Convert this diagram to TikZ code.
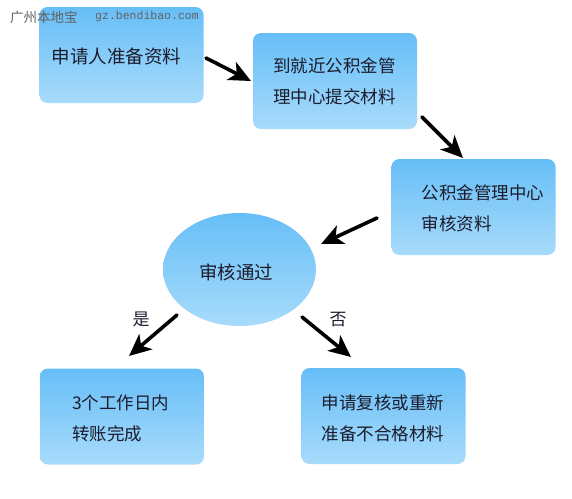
\documentclass[tikz,border=0pt]{standalone}
\usepackage{fontspec}
\newfontfamily\cjk{Noto Sans CJK SC}
\newfontfamily\webmono{Liberation Mono}
\usetikzlibrary{arrows.meta,calc,positioning,shapes.geometric}

\definecolor{boxtop}{HTML}{66BEF7}
\definecolor{boxbot}{HTML}{A8DBFB}
\definecolor{inkdark}{HTML}{1C1C2C}

\begin{document}
\begin{tikzpicture}[
  x=1pt, y=-1pt,
  line cap=round,
  line join=round,
  stepbox/.style={rounded corners=8pt, top color=boxtop, bottom color=boxbot,
    draw=none, minimum width=164pt, minimum height=96pt, inner sep=0pt},
  checkoval/.style={ellipse, top color=boxtop, bottom color=boxbot,
    draw=none, minimum width=153pt, minimum height=113pt, inner sep=0pt},
  steptext/.style={anchor=west, inner sep=0pt, align=left, text=inkdark,
    font=\cjk\fontsize{17.5}{31}\selectfont},
  bigtext/.style={steptext, font=\cjk\fontsize{18.5}{31}\selectfont},
  flow/.style={-{Stealth[length=22pt,width=20pt,inset=6pt]}, line width=3.6pt, draw=black},
  branch/.style={inner sep=0pt, text=inkdark, font=\cjk\fontsize{17}{18}\selectfont},
  watermark/.style={inner sep=0pt, text=black!62}
]

\useasboundingbox (0,0) rectangle (572,498);
\fill[white] (0,0) rectangle (572,498);

% Process boxes.
\node[stepbox] (apply) at (121.5,55) {};
\node[stepbox] (submit) at (335,81) {};
\node[stepbox] (review) at (473.5,207) {};
\node[checkoval] (pass) at (239.5,269.5) {};
\node[stepbox] (transfer) at (122,416.5) {};
\node[stepbox] (redo) at (383.5,416) {};

% Box texts.
\node[bigtext] (applytxt) at ([xshift=12pt,yshift=-1pt]apply.west) {申请人准备资料};
\node[steptext] (submittxt) at ([xshift=20pt]submit.west) {到就近公积金管\\理中心提交材料};
\node[steptext] (reviewtxt) at ([xshift=30pt,yshift=-1pt]review.west) {公积金管理中心\\审核资料};
\node[bigtext] (passtxt) at ([xshift=36pt,yshift=-3pt]pass.west) {审核通过};
\node[steptext] (transfertxt) at ([xshift=32pt,yshift=-1.5pt]transfer.west) {3个工作日内\\转账完成};
\node[steptext] (redotxt) at ([xshift=20pt,yshift=-2pt]redo.west) {申请复核或重新\\准备不合格材料};

% Watermark.
\node[watermark, anchor=west, font=\cjk\fontsize{13.5}{15}\selectfont] (site) at (10,17) {广州本地宝};
\node[watermark, anchor=west, font=\webmono\fontsize{11.5}{13}\selectfont] (url) at (95,17) {gz.bendibao.com};

% Connectors.
\coordinate (a1s) at (206,58);   \coordinate (a1e) at (251,81);
\coordinate (a2s) at (422,117);  \coordinate (a2e) at (463,158);
\coordinate (a3s) at (377,218);  \coordinate (a3e) at (321,244);
\coordinate (a4s) at (177,315);  \coordinate (a4e) at (129,356);
\coordinate (a5s) at (302,317);  \coordinate (a5e) at (351,357);

\draw[flow] (a1s) -- (a1e);
\draw[flow] (a2s) -- (a2e);
\draw[flow] (a3s) -- (a3e);
\draw[flow] (a4s) -- (a4e);
\draw[flow] (a5s) -- (a5e);

% Branch labels.
\node[branch] (yes) at (141,319) {是};
\node[branch] (no) at (338,320) {否};

\end{tikzpicture}
\end{document}
